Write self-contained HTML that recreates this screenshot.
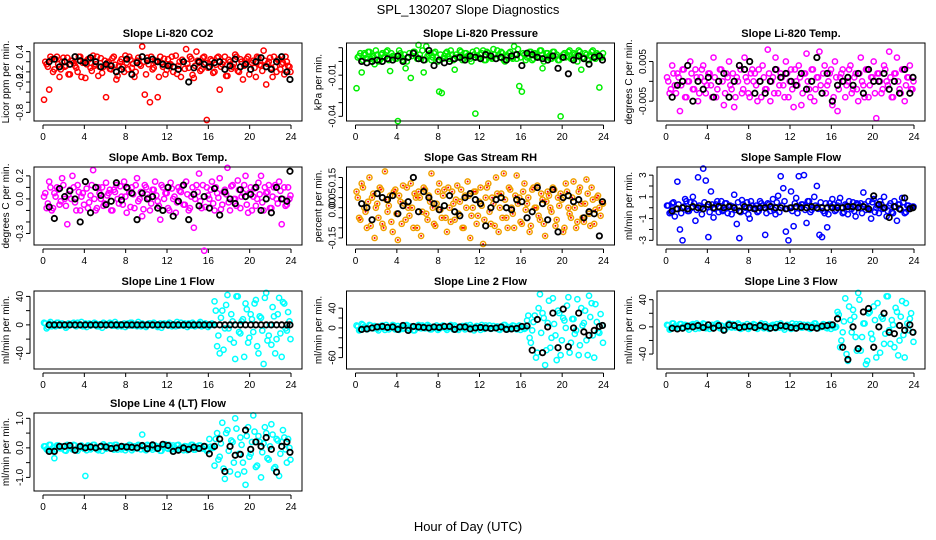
<!DOCTYPE html>
<html><head><meta charset="utf-8"><style>
body{margin:0;background:#fff;}
svg{display:block;font-family:"Liberation Sans",sans-serif;}
</style></head><body>
<svg id="chart" width="936" height="540" viewBox="0 0 936 540" xmlns="http://www.w3.org/2000/svg">
<rect width="936" height="540" fill="#fff"/>
<text x="468" y="14" font-size="13" text-anchor="middle">SPL_130207  Slope Diagnostics</text>
<text x="468" y="531" font-size="13" text-anchor="middle">Hour of Day (UTC)</text>
</svg>
<script>
const hours=[0.1,0.35,0.6,0.85,1.1,1.35,1.6,1.85,2.1,2.35,2.6,2.85,3.1,3.35,3.6,3.85,4.1,4.35,4.6,4.85,5.1,5.35,5.6,5.85,6.1,6.35,6.6,6.85,7.1,7.35,7.6,7.85,8.1,8.35,8.6,8.85,9.1,9.35,9.6,9.85,10.1,10.35,10.6,10.85,11.1,11.35,11.6,11.85,12.1,12.35,12.6,12.85,13.1,13.35,13.6,13.85,14.1,14.35,14.6,14.85,15.1,15.35,15.6,15.85,16.1,16.35,16.6,16.85,17.1,17.35,17.6,17.85,18.1,18.35,18.6,18.85,19.1,19.35,19.6,19.85,20.1,20.35,20.6,20.85,21.1,21.35,21.6,21.85,22.1,22.35,22.6,22.85,23.1,23.35,23.6,23.85];
const bandHours=[0.22,0.47,0.72,0.97,1.22,1.47,1.72,1.97,2.22,2.47,2.72,2.97,3.22,3.47,3.72,3.97,4.22,4.47,4.72,4.97,5.22,5.47,5.72,5.97,6.22,6.47,6.72,6.97,7.22,7.47,7.72,7.97,8.22,8.47,8.72,8.97,9.22,9.47,9.72,9.97,10.22,10.47,10.72,10.97,11.22,11.47,11.72,11.97,12.22,12.47,12.72,12.97,13.22,13.47,13.72,13.97,14.22,14.47,14.72,14.97,15.22,15.47,15.72,15.97,16.22,16.47,16.72,16.97,17.22,17.47,17.72,17.97,18.22,18.47,18.72,18.97,19.22,19.47,19.72,19.97,20.22,20.47,20.72,20.97,21.22,21.47,21.72,21.97,22.22,22.47,22.72,22.97,23.22,23.47,23.72,23.95];
const blackHours=[0.6,1.1,1.6,2.1,2.6,3.1,3.6,4.1,4.6,5.1,5.6,6.1,6.6,7.1,7.6,8.1,8.6,9.1,9.6,10.1,10.6,11.1,11.6,12.1,12.6,13.1,13.6,14.1,14.6,15.1,15.6,16.1,16.6,17.1,17.6,18.1,18.6,19.1,19.6,20.1,20.6,21.1,21.6,22.1,22.6,23.1,23.6,23.9];
const xTicks=[0,4,8,12,16,20,24];

const co2Vals=[-0.55,0.15,-0.35,0.25,0.05,0.3,-0.1,0.2,0.1,0.28,-0.05,0.22,0.12,0.0,0.3,0.18,-0.12,0.25,0.08,0.32,0.15,-0.08,0.27,0.1,-0.5,0.2,0.05,0.3,-0.15,0.12,0.25,0.0,0.18,0.3,0.08,-0.1,0.22,0.15,0.5,-0.45,0.28,-0.6,0.05,0.2,-0.5,0.3,0.1,-0.05,0.25,0.15,0.0,0.32,0.12,-0.1,0.2,0.45,0.08,0.26,-0.12,0.4,0.18,0.05,0.3,-0.95,0.1,0.22,0.0,0.28,-0.35,0.15,0.3,-0.08,0.2,0.1,0.34,0.02,0.25,-0.15,0.18,0.3,0.05,0.22,-0.1,0.28,0.12,0.42,-0.25,0.2,0.08,0.3,0.0,0.25,0.15,-0.05,0.2,0.1];
const co2Band=[0.2,0.1,0.3,0.0,0.25,0.15,0.05,0.28,0.12,-0.05,0.22,0.18,0.08,0.3,-0.1,0.2,0.15,0.25,0.02,0.12,0.3,0.1,-0.02,0.22,0.18,0.06,0.27,0.14,-0.08,0.2,0.1,0.32,0.05,0.24,0.16,0.0,0.28,0.12,0.2,-0.05,0.15,0.3,0.08,0.22,-0.1,0.18,0.26,0.04,0.14,0.3,0.1,-0.04,0.2,0.24,0.06,0.16,0.3,-0.06,0.12,0.22,0.02,0.28,0.18,0.08,0.25,-0.02,0.14,0.3,0.1,0.2,-0.08,0.24,0.06,0.16,0.3,0.0,0.2,0.12,0.26,-0.05,0.18,0.08,0.3,0.14,0.02,0.22,0.16,0.28,-0.1,0.1,0.24,0.05,0.18,0.3,0.12,0.0];
const co2Black=[0.2,0.25,0.1,0.2,0.15,0.3,0.22,0.18,0.28,0.2,0.1,0.15,0.12,0.0,0.05,0.25,-0.05,0.18,0.3,0.22,0.25,0.2,0.15,0.12,0.1,0.05,0.2,-0.2,0.08,0.2,0.15,0.1,0.18,0.2,0.05,0.12,0.25,0.1,0.15,0.05,0.2,0.28,0.1,0.05,0.2,0.3,0.0,-0.15];
const presVals=[-0.0195,0.004,-0.008,0.006,0.002,0.007,0.003,-0.002,0.005,0.001,0.006,0.003,0.008,-0.007,0.004,0.002,-0.0435,0.006,0.001,-0.005,0.003,-0.012,0.007,0.004,0.012,0.002,-0.008,0.011,0.005,0.001,0.006,0.003,-0.022,-0.023,0.004,0.007,0.002,0.005,-0.006,0.003,0.008,0.001,0.006,0.004,0.002,0.007,-0.038,0.003,0.005,0.008,0.001,0.006,0.003,0.009,0.002,0.005,0.007,0.001,0.004,0.006,0.003,0.011,0.002,-0.018,-0.022,0.005,0.003,0.007,0.001,0.006,0.004,0.008,-0.005,0.003,0.006,0.002,0.007,0.004,0.001,-0.040,0.005,0.003,0.007,0.002,0.006,0.004,0.008,-0.006,0.003,0.005,0.001,0.007,0.004,0.006,-0.019,0.003];
const presBand=[0.003,0.006,0.001,0.005,0.007,0.002,0.004,0.008,0.0,0.005,0.003,0.007,0.001,0.006,0.004,0.002,0.008,0.003,0.005,0.0,0.006,0.004,0.007,0.002,0.005,0.008,0.001,0.004,0.006,0.003,0.007,0.0,0.005,0.002,0.006,0.004,0.008,0.001,0.005,0.003,0.007,0.002,0.006,0.004,0.0,0.005,0.008,0.003,0.006,0.001,0.007,0.004,0.002,0.005,0.008,0.003,0.006,0.0,0.004,0.007,0.002,0.005,0.009,0.003,0.006,0.001,0.004,0.007,0.002,0.005,0.003,0.008,0.0,0.006,0.004,0.002,0.007,0.005,0.001,0.003,0.006,0.004,0.008,0.002,0.005,0.0,0.007,0.003,0.006,0.001,0.004,0.008,0.002,0.005,0.003,0.006];
const presBlack=[0.0,-0.001,0.0,0.001,0.0,0.002,0.001,0.004,0.0,0.003,0.006,0.002,0.001,0.008,-0.003,0.001,-0.001,0.0,0.002,0.003,0.001,0.004,0.003,0.002,0.005,0.004,0.002,0.003,0.001,0.004,0.005,-0.003,0.006,0.005,0.003,0.002,0.001,0.004,-0.005,0.003,-0.009,0.001,0.004,0.002,-0.002,0.003,0.004,0.001];
const tempVals=[0.001,-0.003,0.004,-0.001,0.002,-0.0075,0.003,-0.004,0.0,0.005,-0.002,0.003,-0.005,0.001,0.004,-0.003,0.002,-0.001,0.006,-0.004,0.0,0.003,-0.006,0.002,0.005,-0.002,-0.0065,0.001,0.004,-0.003,0.006,0.0,-0.004,0.003,0.002,-0.005,0.0,0.004,-0.002,0.008,-0.005,0.001,0.006,-0.003,0.002,-0.001,0.005,-0.004,0.003,-0.0065,0.0,0.004,-0.006,0.002,0.007,-0.002,0.003,-0.005,0.001,0.0075,-0.003,0.004,-0.001,0.002,-0.006,0.005,-0.0075,0.001,0.003,-0.004,0.0,0.004,-0.002,0.002,-0.005,0.006,-0.001,0.003,-0.004,0.001,0.005,-0.0093,0.002,-0.003,0.004,0.0,0.0075,-0.004,0.002,0.006,-0.002,0.003,-0.005,0.001,0.004,-0.002];
const tempBand=[0.0,-0.002,0.002,-0.003,0.001,-0.001,0.003,-0.004,0.0,0.002,-0.002,0.001,-0.003,0.003,0.0,-0.001,0.002,-0.004,0.001,-0.002,0.003,0.0,-0.003,0.001,-0.001,0.002,-0.004,0.0,0.003,-0.002,0.001,-0.003,0.002,0.0,-0.001,0.003,-0.004,0.001,-0.002,0.002,0.0,-0.003,0.003,-0.001,0.001,-0.004,0.002,0.0,-0.002,0.003,-0.001,0.001,-0.003,0.002,0.0,-0.004,0.003,-0.002,0.001,-0.001,0.002,-0.003,0.0,0.003,-0.004,0.001,-0.002,0.002,0.0,-0.001,0.003,-0.003,0.001,-0.002,0.002,0.0,-0.004,0.003,-0.001,0.001,-0.003,0.002,0.0,-0.002,0.003,-0.001,0.001,-0.004,0.002,0.0,-0.003,0.003,-0.001,0.001,-0.002,0.0];
const tempBlack=[-0.004,-0.001,0.0,0.004,-0.005,0.0,-0.002,0.001,-0.004,0.0,0.002,-0.004,0.0,0.004,0.003,0.005,-0.003,0.0,-0.003,0.0,0.003,0.001,0.002,0.0,-0.001,0.002,-0.002,0.0,0.006,-0.003,0.002,-0.005,-0.001,0.0,0.001,-0.001,0.002,-0.003,0.003,0.0,0.0,0.002,-0.002,0.0,-0.003,0.003,-0.003,0.001];
const ambVals=[0.02,-0.08,0.15,-0.1,0.05,0.1,-0.05,0.18,0.0,-0.22,0.08,0.2,-0.03,0.12,-0.1,0.05,0.15,-0.08,0.03,0.25,-0.1,0.1,0.0,-0.06,0.14,0.05,-0.1,0.08,0.12,-0.04,0.02,0.15,-0.12,0.06,0.1,-0.08,0.18,0.0,-0.15,0.12,0.04,-0.1,0.08,0.15,-0.02,-0.18,0.1,0.05,-0.08,0.14,0.0,-0.12,0.1,0.06,-0.05,0.15,-0.1,0.02,-0.25,0.12,0.22,-0.08,-0.45,0.1,0.0,0.15,-0.1,0.05,0.18,-0.05,0.08,0.27,-0.1,0.12,0.0,0.16,-0.08,0.05,0.2,-0.12,0.1,0.02,-0.06,0.14,0.2,-0.1,0.05,0.12,-0.08,0.1,0.0,0.15,-0.22,0.1,-0.05,0.0];
const ambBand=[0.05,-0.04,0.1,-0.08,0.02,0.08,-0.02,0.12,-0.06,0.04,0.0,0.1,-0.1,0.06,0.02,-0.05,0.09,-0.03,0.12,0.0,-0.08,0.05,0.1,-0.04,0.03,0.08,-0.1,0.06,0.0,0.11,-0.05,0.02,0.09,-0.07,0.04,0.12,-0.02,0.06,-0.09,0.1,0.01,-0.04,0.08,0.03,-0.06,0.12,0.0,0.05,-0.1,0.09,0.02,-0.03,0.07,0.11,-0.05,0.04,-0.08,0.1,0.0,0.06,-0.02,0.12,-0.07,0.03,0.08,-0.04,0.1,0.01,-0.09,0.06,0.04,-0.03,0.11,0.0,-0.06,0.08,0.02,0.12,-0.05,0.05,-0.1,0.09,0.0,0.04,-0.03,0.1,0.06,-0.08,0.02,0.12,-0.04,0.07,0.0,-0.06,0.1,0.03];
const ambBlack=[-0.07,-0.17,0.09,0.02,0.07,0.0,-0.2,0.15,-0.12,0.1,0.03,-0.05,-0.02,0.14,-0.01,0.1,0.05,-0.18,0.05,0.0,0.02,-0.08,-0.1,0.1,-0.15,-0.02,0.12,-0.18,0.04,-0.06,0.02,-0.08,0.09,-0.14,0.06,0.0,-0.04,0.08,0.02,0.04,0.1,-0.1,0.0,-0.12,0.1,0.0,-0.02,0.24];
const rhVals=[0.08,-0.05,0.12,0.0,-0.1,0.15,0.05,-0.15,0.02,0.1,-0.08,0.18,-0.02,0.06,-0.12,0.09,-0.16,0.03,0.11,-0.06,0.0,0.12,-0.1,0.05,0.08,-0.14,0.1,-0.03,0.06,0.17,-0.08,0.02,0.12,-0.05,0.09,-0.12,0.0,0.08,-0.06,0.11,0.03,-0.1,0.06,0.13,-0.15,0.0,0.08,-0.04,0.1,-0.18,0.05,0.12,-0.08,0.02,0.15,-0.12,0.07,0.17,-0.05,0.1,0.0,-0.1,0.16,0.05,-0.08,0.12,0.02,-0.12,0.09,0.0,0.11,-0.06,0.04,-0.14,0.08,0.0,0.1,-0.09,0.05,0.07,-0.12,0.12,0.0,-0.05,0.13,-0.1,0.08,0.02,-0.07,0.14,-0.03,0.1,-0.08,0.05,0.0,0.03];
const rhBand=[0.05,-0.06,0.1,-0.02,0.03,-0.09,0.07,0.0,-0.05,0.09,-0.1,0.04,0.01,-0.07,0.08,-0.03,0.06,-0.08,0.02,0.1,-0.04,0.0,0.07,-0.1,0.05,-0.02,0.09,-0.06,0.03,0.0,-0.09,0.08,-0.01,0.06,-0.05,0.1,-0.07,0.02,0.04,-0.03,0.09,-0.1,0.0,0.06,-0.04,0.08,-0.08,0.03,0.01,-0.06,0.1,-0.02,0.05,-0.09,0.07,0.0,-0.05,0.04,-0.1,0.09,-0.03,0.06,0.02,-0.07,0.08,-0.01,0.05,-0.09,0.1,0.0,-0.04,0.07,-0.08,0.03,0.06,-0.02,0.09,-0.06,0.01,0.04,-0.1,0.08,-0.03,0.05,0.0,-0.07,0.1,-0.05,0.02,0.07,-0.09,0.04,-0.01,0.06,-0.04,0.02];
const rhBlack=[0.02,0.0,-0.06,0.07,0.05,0.04,0.06,-0.03,0.01,0.03,0.15,-0.02,0.08,0.05,0.02,-0.01,0.01,0.06,-0.02,-0.04,0.05,0.07,0.04,0.02,-0.09,0.0,0.04,0.05,0.0,-0.01,0.04,0.03,-0.05,-0.02,0.1,0.02,-0.06,0.09,-0.12,0.05,0.06,0.03,0.04,-0.05,-0.02,-0.03,-0.14,0.03];
const flowVals=[0.2,-0.5,0.4,-0.8,2.4,-2.0,-3.0,0.8,-0.3,0.5,1.0,-1.2,2.8,0.0,3.6,2.5,-2.7,1.5,-0.9,0.3,-0.4,0.6,-0.2,0.4,0.1,-0.6,1.2,-1.5,-2.8,0.7,-0.3,0.5,-1.0,0.2,0.0,-0.4,0.6,0.2,-2.5,0.4,-0.3,0.8,-0.6,1.1,2.9,1.8,-2.2,-3.0,1.5,-1.7,0.9,2.9,0.3,3.0,-1.4,0.6,-0.2,1.0,2.0,-2.5,-2.7,-0.5,-1.8,0.4,0.8,-0.3,0.2,0.9,-0.5,0.3,-0.6,0.1,0.5,-0.8,0.3,0.4,1.4,-0.2,0.6,-1.0,0.8,0.0,-0.5,0.3,1.0,-0.8,0.2,-0.4,0.6,-1.2,0.3,0.9,-0.5,0.2,0.0,0.1];
const flowBand=[0.2,-0.4,0.5,-0.1,0.3,-0.5,0.1,0.6,-0.3,0.0,0.4,-0.2,0.2,-0.6,0.5,0.1,-0.4,0.3,-0.1,0.6,0.0,-0.3,0.4,-0.5,0.2,0.1,-0.2,0.5,-0.4,0.3,0.0,-0.6,0.6,-0.1,0.2,-0.3,0.4,0.0,-0.5,0.3,0.1,-0.2,0.5,-0.4,0.2,0.6,-0.1,0.0,-0.3,0.4,-0.5,0.1,0.3,-0.2,0.6,-0.4,0.0,0.2,-0.1,0.5,-0.3,0.4,-0.6,0.1,0.3,-0.2,0.5,0.0,-0.4,0.2,0.6,-0.1,-0.3,0.4,0.1,-0.5,0.3,0.0,-0.2,0.5,-0.4,0.2,0.6,-0.1,0.0,-0.3,0.4,-0.5,0.1,0.3,-0.2,0.5,-0.4,0.2,0.0,0.1];
const flowBlack=[-0.3,-0.1,0.0,-0.1,0.1,0.0,-0.1,0.3,0.0,0.1,0.0,0.1,0.0,-0.3,0.1,0.0,-0.1,0.0,0.0,0.1,0.0,0.0,-0.1,0.0,0.1,0.0,0.0,0.1,0.0,0.0,0.0,0.0,0.0,0.0,0.1,0.1,0.0,0.1,-0.1,1.1,0.3,0.0,-0.9,0.1,-0.1,0.9,-0.1,0.0];
const line1Vals=[3,-5,2,-2,1,3,-1,2,0,-2,1,2,-1,3,0,-2,2,1,-1,0,2,-2,1,3,-1,0,2,-1,1,0,-2,2,1,-1,3,0,-2,1,2,-1,0,2,-1,1,-3,2,0,1,-1,2,0,-2,1,3,-1,0,2,-1,1,0,2,-2,1,0,-1,2,33,-30,-40,20,-5,42,-20,5,-48,40,-12,8,30,-25,15,-10,35,-40,10,-55,45,-15,-28,12,-20,38,-45,30,-8,5];
const line1Band=[2,-3,4,0,-2,3,-1,1,-4,2,0,3,-2,1,4,-1,-3,2,0,3,-2,1,-4,2,0,3,-1,4,-2,1,0,-3,2,3,-1,0,4,-2,1,-3,2,0,3,-1,1,-4,2,0,3,-2,1,4,-1,0,2,-3,1,3,-2,0,4,-1,2,-3,1,0,20,-15,10,-35,28,-5,15,-25,40,-10,5,-45,22,-18,8,30,-30,12,-8,38,-22,0,25,-40,15,-12,32,-5,18,-20];
const line1Black=[0,0,0,0,0,0,0,0,0,0,0,0,0,0,0,0,0,0,0,0,0,0,0,0,0,0,0,0,0,0,0,0,0,0,0,0,0,0,0,0,0,0,0,0,0,0,0,0];
const line2Vals=[5,-5,8,2,-3,6,0,4,-2,3,5,-4,2,0,6,-3,4,1,-2,5,0,3,-5,2,6,-1,3,0,4,-3,2,5,-2,1,4,-4,3,0,5,-2,2,4,-3,1,6,-1,0,3,-4,2,5,0,-2,4,1,-3,3,6,-1,2,0,4,-3,5,1,-2,15,-20,-5,25,-50,68,30,-75,10,-40,60,-15,35,-55,20,0,62,-30,18,-5,-55,40,10,-25,65,50,-60,12,-10,5];
const line2Band=[3,-4,6,0,-2,5,-1,2,-5,4,0,6,-3,2,5,-1,-4,3,0,6,-2,1,-5,4,0,5,-1,6,-3,2,0,-4,3,5,-1,0,6,-3,2,-4,3,0,5,-1,2,-5,4,0,6,-2,1,5,-1,0,3,-4,2,6,-3,0,5,-1,3,-4,2,0,25,-30,12,-60,40,-10,20,-45,55,-20,8,-65,30,-25,15,45,-50,18,-12,58,-35,5,35,-55,22,-15,48,-8,28,-30];
const line2Black=[-3,-2,0,2,3,1,2,-3,5,-5,3,2,1,0,2,1,3,3,-3,2,2,-2,0,1,0,-1,0,2,-3,-2,-1,3,4,-45,17,-50,2,30,-40,38,-38,0,30,-8,-15,-5,3,5];
const line3Vals=[3,-4,5,1,-2,4,0,3,-1,2,4,-3,1,0,5,-2,3,1,-1,4,0,2,-4,1,5,-1,2,0,3,-2,1,4,-1,1,3,-3,2,0,4,-1,1,3,-2,1,5,-1,0,2,-3,1,4,0,-1,3,1,-2,2,5,-1,1,0,3,-2,4,1,-1,22,-30,-8,42,-50,10,25,-15,50,-35,5,-55,20,-10,30,-45,0,15,-25,45,-5,10,-30,22,-20,38,-45,5,12,-8];
const line3Band=[2,-3,5,0,-2,4,-1,2,-4,3,0,5,-2,1,4,-1,-3,3,0,5,-2,1,-4,3,0,4,-1,5,-3,2,0,-3,2,4,-1,0,5,-2,1,-3,2,0,4,-1,2,-4,3,0,5,-2,1,4,-1,0,3,-3,2,5,-2,0,4,-1,3,-3,2,0,18,-20,8,-40,30,-8,15,-35,40,-15,5,-50,22,-18,10,35,-38,12,-10,45,-25,3,28,-42,15,-12,35,-5,20,-22];
const line3Black=[-2,-3,-2,1,0,2,-1,3,-2,2,-5,3,2,-1,0,1,-1,2,0,-2,-1,2,1,-1,-2,1,0,-1,-2,1,2,3,12,-30,-48,0,-32,22,27,-30,0,20,-8,-10,2,-5,3,-8];
const line4Vals=[0.05,-0.05,0.1,-0.1,-0.35,0.08,0.0,0.05,-0.08,0.1,0.02,-0.05,0.08,-0.1,0.05,0.0,-0.95,0.08,-0.05,0.1,0.02,-0.08,0.05,0.12,-0.03,0.0,0.08,-0.06,0.1,0.02,-0.05,0.05,0.0,0.1,-0.08,0.05,-0.02,0.08,0.45,-0.05,0.1,0.0,-0.06,0.08,0.02,-0.1,0.05,0.12,-0.03,0.0,0.08,-0.05,0.1,0.02,-0.08,0.05,0.0,0.1,-0.06,0.04,0.08,-0.02,0.05,-0.1,0.3,0.0,-0.6,0.5,-0.3,0.85,-1.05,0.6,-0.8,0.2,1.0,-0.9,0.35,-0.5,-1.25,0.7,-0.2,1.1,-0.65,0.4,-1.0,0.15,0.5,-0.4,0.8,-0.7,0.3,-0.95,0.2,0.35,-0.5,0.0];
const line4Band=[0.05,-0.08,0.1,0.0,-0.05,0.08,-0.02,0.04,-0.1,0.06,0.0,0.1,-0.06,0.03,0.08,-0.03,-0.08,0.06,0.0,0.1,-0.05,0.02,-0.1,0.07,0.0,0.09,-0.03,0.1,-0.06,0.04,0.0,-0.08,0.05,0.09,-0.02,0.0,0.1,-0.05,0.03,-0.08,0.06,0.0,0.09,-0.03,0.04,-0.1,0.07,0.0,0.1,-0.05,0.02,0.09,-0.03,0.0,0.06,-0.08,0.04,0.1,-0.06,0.0,0.08,-0.02,0.05,-0.08,0.04,0.0,0.3,-0.4,0.15,-0.7,0.5,-0.1,0.25,-0.5,0.65,-0.2,0.1,-0.8,0.4,-0.3,0.2,0.55,-0.6,0.2,-0.15,0.7,-0.35,0.05,0.45,-0.65,0.25,-0.2,0.6,-0.05,0.3,-0.4];
const line4Black=[-0.12,-0.12,0.05,0.05,0.08,-0.08,0.05,0.0,0.03,0.0,0.05,0.03,-0.02,0.0,0.05,0.03,0.02,0.0,0.08,-0.03,0.1,-0.02,0.12,0.08,-0.12,-0.08,0.0,-0.05,0.02,-0.02,0.05,-0.2,0.05,0.3,-0.8,0.05,-0.25,-0.22,0.6,-0.05,0.2,0.05,0.35,-0.05,-0.82,0.05,0.2,-0.15];

const panels=[
 {key:'co2',title:'Slope Li-820 CO2',ylab:'Licor ppm per min.',col:0,row:0,ymin:-0.97,ymax:0.57,ticks:[0.4,0.2,0,-0.2,-0.4,-0.6,-0.8],labels:{'0.4':'0.4','0':'0.2','-0.2':'-0.2','-0.8':'-0.8'},color:'#ff0000',vals:co2Vals,band:co2Band,black:co2Black},
 {key:'pressure',title:'Slope Li-820 Pressure',ylab:'kPa per min.',col:1,row:0,ymin:-0.0434,ymax:0.01345,ticks:[0.01,0,-0.01,-0.02,-0.03,-0.04],labels:{'-0.01':'-0.01','-0.04':'-0.04'},color:'#00ee00',vals:presVals,band:presBand,black:presBlack},
 {key:'temp',title:'Slope Li-820 Temp.',ylab:'degrees C per min.',col:2,row:0,ymin:-0.01,ymax:0.00967,ticks:[0.005,0,-0.005],labels:{'0.005':'0.005','-0.005':'-0.005'},color:'#ff00ff',vals:tempVals,band:tempBand,black:tempBlack},
 {key:'amb',title:'Slope Amb. Box Temp.',ylab:'degrees C per min.',col:0,row:1,ymin:-0.40,ymax:0.277,ticks:[0.2,0.1,0,-0.1,-0.2,-0.3],labels:{'0.2':'0.2','0':'0.0','-0.3':'-0.3'},color:'#ff00ff',vals:ambVals,band:ambBand,black:ambBlack},
 {key:'rh',title:'Slope Gas Stream RH',ylab:'percent per min.',col:1,row:1,ymin:-0.185,ymax:0.202,ticks:[0.15,0.1,0.05,0,-0.05,-0.1,-0.15],labels:{'0.15':'0.15','0.05':'0.05','0':'0.00','-0.15':'-0.15'},color:'#f0a000',vals:rhVals,band:rhBand,black:rhBlack},
 {key:'sample-flow',title:'Slope Sample Flow',ylab:'ml/min per min.',col:2,row:1,ymin:-3.43,ymax:3.75,ticks:[3,2,1,0,-1,-2,-3],labels:{'3':'3','1':'1','-1':'-1','-3':'-3'},color:'#0000ff',vals:flowVals,band:flowBand,black:flowBlack},
 {key:'line1',title:'Slope Line 1 Flow',ylab:'ml/min per min.',col:0,row:2,ymin:-62,ymax:47.6,ticks:[40,20,0,-20,-40],labels:{'40':'40','0':'0','-40':'-40'},color:'#00ffff',vals:line1Vals,band:line1Band,black:line1Black},
 {key:'line2',title:'Slope Line 2 Flow',ylab:'ml/min per min.',col:1,row:2,ymin:-83,ymax:74.6,ticks:[80,40,20,0,-20,-40,-60],labels:{'40':'40','0':'0','-60':'-60'},color:'#00ffff',vals:line2Vals,band:line2Band,black:line2Black},
 {key:'line3',title:'Slope Line 3 Flow',ylab:'ml/min per min.',col:2,row:2,ymin:-62,ymax:52.8,ticks:[40,20,0,-20,-40],labels:{'40':'40','0':'0','-40':'-40'},color:'#00ffff',vals:line3Vals,band:line3Band,black:line3Black},
 {key:'line4',title:'Slope Line 4 (LT) Flow',ylab:'ml/min per min.',col:0,row:3,ymin:-1.46,ymax:1.18,ticks:[1,0.5,0,-0.5,-1],labels:{'1':'1.0','0':'0.0','-1':'-1.0'},color:'#00ffff',vals:line4Vals,band:line4Band,black:line4Black}
];
const NS='http://www.w3.org/2000/svg';
const svg=document.getElementById('chart');
const colLeft=[34,346.5,657], rowTop=[43,167,291,413], W=268, H=78;
function mk(tag,attrs,parent){const e=document.createElementNS(NS,tag);for(const k in attrs)e.setAttribute(k,attrs[k]);parent.appendChild(e);return e;}
panels.forEach(p=>{
  const L=colLeft[p.col],T=rowTop[p.row];
  const g=mk('g',{},svg);
  
  
  const xs=h=>L+9+h*(248/24);
  const ys=v=>T+H*(p.ymax-v)/(p.ymax-p.ymin);
  const title=mk('text',{x:L+W/2,y:T-6,'font-size':'11','font-weight':'bold','text-anchor':'middle'},g);
  title.textContent=p.title;
  
  
  const yl=mk('text',{x:0,y:0,'font-size':'10','text-anchor':'middle',transform:`translate(${L-25},${T+H/2}) rotate(-90)`},g);
  yl.textContent=p.ylab;
  
  
  const xa=mk('g',{},g);
  
  
  mk('line',{x1:xs(0),x2:xs(24),y1:T+H+4,y2:T+H+4,stroke:'#000','stroke-width':1},xa);
  xTicks.forEach(t=>{
    mk('line',{x1:xs(t),x2:xs(t),y1:T+H+4,y2:T+H+8,stroke:'#000','stroke-width':1},xa);
    const tl=mk('text',{x:xs(t),y:T+H+19,'font-size':'10','text-anchor':'middle'},xa);
    tl.textContent=String(t);
    
    
  });
  const ya=mk('g',{},g);
  
  
  const tv=p.ticks.filter(t=>t>=p.ymin&&t<=p.ymax);
  mk('line',{x1:L-4,x2:L-4,y1:ys(Math.max(...tv)),y2:ys(Math.min(...tv)),stroke:'#000','stroke-width':1},ya);
  tv.forEach(t=>{
    mk('line',{x1:L-8,x2:L-4,y1:ys(t),y2:ys(t),stroke:'#000','stroke-width':1},ya);
    const lab=p.labels[String(t)];
    if(lab!==undefined){
      const tl=mk('text',{x:0,y:0,'font-size':'10','text-anchor':'middle',transform:`translate(${L-11},${ys(t)}) rotate(-90)`},ya);
      tl.textContent=lab;
      
      
    }
  });
  const pts=mk('g',{fill:'none',stroke:p.color,'stroke-width':1.5},g);
  
  
  const nb=Math.min(bandHours.length,p.band.length);
  for(let i=0;i<nb;i++){
    const c=mk('circle',{cx:xs(bandHours[i]),cy:ys(p.band[i]),r:2.6},pts);
    
    
  }
  const n=Math.min(hours.length,p.vals.length);
  for(let i=0;i<n;i++){
    const c=mk('circle',{cx:xs(hours[i]),cy:ys(p.vals[i]),r:2.6},pts);
    
    
  }
  if(p.key==='rh'){
    for(let i=0;i<n;i++){
      const d=mk('circle',{cx:xs(hours[i]),cy:ys(p.vals[i]),r:1,fill:'#ff0000',stroke:'none'},pts);
      
      
    }
    for(let i=0;i<nb;i++){
      const d=mk('circle',{cx:xs(bandHours[i]),cy:ys(p.band[i]),r:1,fill:'#ff0000',stroke:'none'},pts);
      
      
    }
  }
  const bp=mk('g',{fill:'none',stroke:'#000','stroke-width':1.8},g);
  
  
  const m=Math.min(blackHours.length,p.black.length);
  for(let i=0;i<m;i++){
    const c=mk('circle',{cx:xs(blackHours[i]),cy:ys(p.black[i]),r:2.7},bp);
    
    
  }
  const box=mk('rect',{x:L,y:T,width:W,height:H,fill:'none',stroke:'#000','stroke-width':1},g);
  
  
});
</script>
</body></html>
